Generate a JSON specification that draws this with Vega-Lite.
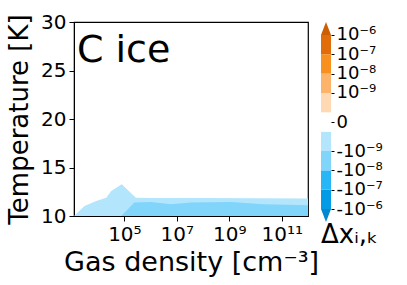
{
  "$schema": "https://vega.github.io/schema/vega-lite/v6.json",
  "padding": {"left": 5, "top": 11, "right": 5, "bottom": 5},
  "spacing": 1,
  "config": {
    "font": "DejaVu Sans",
    "axis": {
      "labelFontSize": 20,
      "titleFontSize": 26,
      "titleFontWeight": "normal",
      "labelColor": "black",
      "titleColor": "black",
      "tickColor": "black",
      "domainColor": "black",
      "tickSize": 5,
      "labelPadding": 3,
      "grid": false,
      "labelOverlap": false
    },
    "title": {"fontWeight": "normal", "color": "black"}
  },
  "hconcat": [
    {
      "width": 234,
      "height": 194,
      "view": {"stroke": "black", "strokeWidth": 1.2},
      "layer": [
        {
          "data": {"values": [
            {"density": 1200, "T": 10.0},
            {"density": 3020, "T": 11.03},
            {"density": 8510, "T": 11.55},
            {"density": 20400, "T": 11.89},
            {"density": 31600, "T": 12.59},
            {"density": 79400, "T": 13.27},
            {"density": 275000, "T": 11.89},
            {"density": 1000000, "T": 11.85},
            {"density": 100000000, "T": 11.85},
            {"density": 10000000000, "T": 11.82},
            {"density": 1000000000000, "T": 11.8}
          ]},
          "mark": {"type": "area", "color": "#b3e5fc", "opacity": 1},
          "encoding": {
            "x": {
              "field": "density", "type": "quantitative",
              "scale": {"type": "log", "domain": [1200, 1000000000000], "nice": false},
              "axis": {
                "values": [100000, 10000000, 1000000000, 100000000000],
                "labelExpr": "datum.value < 1e6 ? '10⁵' : datum.value < 1e8 ? '10⁷' : datum.value < 1e10 ? '10⁹' : '10¹¹'",
                "title": "Gas density [cm⁻³]",
                "titleFontSize": 27,
                "titlePadding": 5,
                "labelOverlap": false
              }
            },
            "y": {
              "field": "T", "type": "quantitative",
              "scale": {"domain": [10, 30], "nice": false, "zero": false},
              "axis": {"values": [10, 15, 20, 25, 30], "title": "Temperature [K]", "titlePadding": 8, "labelOverlap": false}
            },
            "y2": {"datum": 10}
          }
        },
        {
          "data": {"values": [
            {"density": 75900, "T": 10.0},
            {"density": 240000, "T": 11.38},
            {"density": 1020000, "T": 11.45},
            {"density": 5900000, "T": 11.2},
            {"density": 34000000, "T": 11.38},
            {"density": 1120000000, "T": 11.45},
            {"density": 20000000000, "T": 11.2},
            {"density": 1000000000000, "T": 11.1}
          ]},
          "mark": {"type": "area", "color": "#81d4fa", "opacity": 1},
          "encoding": {
            "x": {"field": "density", "type": "quantitative"},
            "y": {"field": "T", "type": "quantitative"},
            "y2": {"datum": 10}
          }
        },
        {
          "data": {"values": [{"label": "C ice"}]},
          "mark": {"type": "text", "align": "left", "baseline": "alphabetic", "fontSize": 38, "color": "black"},
          "encoding": {
            "x": {"datum": 1550, "type": "quantitative"},
            "y": {"datum": 25.9, "type": "quantitative"},
            "text": {"field": "label"}
          }
        }
      ]
    },
    {
      "width": 10,
      "height": 200,
      "view": {"stroke": null},
      "title": {"text": "Δxᵢ,ₖ", "orient": "bottom", "anchor": "start", "fontSize": 26, "offset": 0, "fontWeight": "normal"},
      "resolve": {"axis": {"y": "independent"}},
      "layer": [
        {
          "data": {"values": [
            {"band": "-1e-6 to -1e-7", "lo": 0, "hi": 1},
            {"band": "-1e-7 to -1e-8", "lo": 1, "hi": 2},
            {"band": "-1e-8 to -1e-9", "lo": 2, "hi": 3},
            {"band": "-1e-9 to -1e-10", "lo": 3, "hi": 4},
            {"band": "-1e-10 to 1e-10", "lo": 4, "hi": 5},
            {"band": "1e-10 to 1e-9", "lo": 5, "hi": 6},
            {"band": "1e-9 to 1e-8", "lo": 6, "hi": 7},
            {"band": "1e-8 to 1e-7", "lo": 7, "hi": 8},
            {"band": "1e-7 to 1e-6", "lo": 8, "hi": 9}
          ]},
          "mark": {"type": "rect"},
          "encoding": {
            "x": {"datum": 0, "type": "quantitative", "scale": {"domain": [0, 1]}, "axis": null},
            "x2": {"datum": 1},
            "y": {
              "field": "lo", "type": "quantitative",
              "scale": {"domain": [-0.67, 9.67], "nice": false, "zero": false},
              "axis": {
                "orient": "right",
                "values": [0, 1, 2, 3, 4.5, 6, 7, 8, 9],
                "labelExpr": "datum.value == 0 ? '-10⁻⁶' : datum.value == 1 ? '-10⁻⁷' : datum.value == 2 ? '-10⁻⁸' : datum.value == 3 ? '-10⁻⁹' : datum.value == 4.5 ? '0' : datum.value == 6 ? '10⁻⁹' : datum.value == 7 ? '10⁻⁸' : datum.value == 8 ? '10⁻⁷' : '10⁻⁶'",
                "title": null,
                "domain": false,
                "tickSize": 3,
                "labelPadding": 2,
                "labelOverlap": false,
                "labelBound": false,
                "labelFontSize": 18
              }
            },
            "y2": {"field": "hi"},
            "color": {
              "field": "band", "type": "nominal", "legend": null,
              "scale": {
                "domain": ["-1e-6 to -1e-7", "-1e-7 to -1e-8", "-1e-8 to -1e-9", "-1e-9 to -1e-10", "-1e-10 to 1e-10", "1e-10 to 1e-9", "1e-9 to 1e-8", "1e-8 to 1e-7", "1e-7 to 1e-6"],
                "range": ["#039be5", "#29b6f6", "#81d4fa", "#b3e5fc", "#ffffff", "#fed9b3", "#fdb46a", "#f7901e", "#e06d0a"]
              }
            }
          }
        },
        {
          "data": {"values": [{"end": "upper"}]},
          "mark": {"type": "point", "shape": "M-1,1.3L0,-1.3L1,1.3Z", "filled": true, "size": 100, "color": "#cc5e06", "opacity": 1, "strokeWidth": 0},
          "encoding": {"y": {"datum": 9.335, "type": "quantitative", "axis": null}}
        },
        {
          "data": {"values": [{"end": "lower"}]},
          "mark": {"type": "point", "shape": "M-1,-1.3L0,1.3L1,-1.3Z", "filled": true, "size": 100, "color": "#0288d1", "opacity": 1, "strokeWidth": 0},
          "encoding": {"y": {"datum": -0.335, "type": "quantitative", "axis": null}}
        }
      ]
    }
  ]
}
